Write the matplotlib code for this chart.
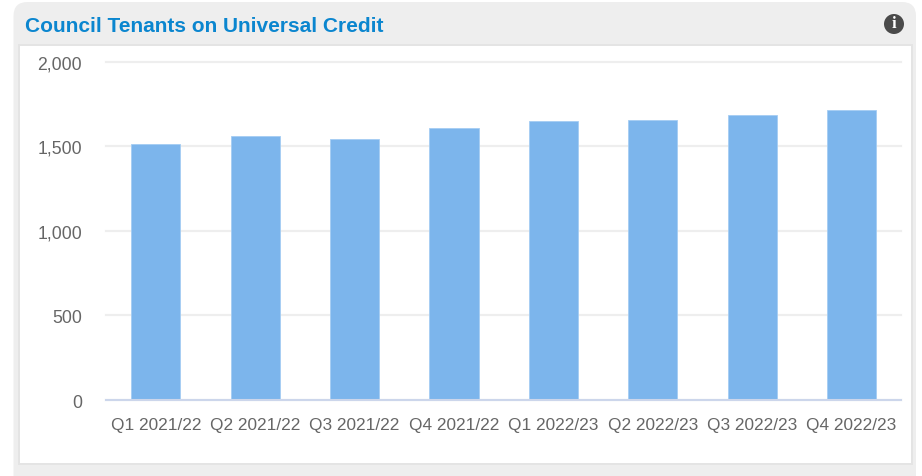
import matplotlib
matplotlib.use("Agg")
import matplotlib.pyplot as plt
from matplotlib.patches import FancyBboxPatch, Rectangle, Circle
from matplotlib.transforms import ScaledTranslation

categories = ["Q1 2021/22", "Q2 2021/22", "Q3 2021/22", "Q4 2021/22",
              "Q1 2022/23", "Q2 2022/23", "Q3 2022/23", "Q4 2022/23"]
values = [1515, 1562, 1540, 1610, 1648, 1657, 1686, 1716]
y_ticks = [0, 500, 1000, 1500, 2000]
y_labels = ["0", "500", "1,000", "1,500", "2,000"]
title = "Council Tenants on Universal Credit"

W, H = 922, 476
plt.rcParams["font.family"] = ["Liberation Sans", "DejaVu Sans"]
fig = plt.figure(figsize=(W / 100, H / 100), dpi=100, facecolor="white")

bg = fig.add_axes([0, 0, 1, 1], zorder=0)
bg.set_xlim(0, W)
bg.set_ylim(H, 0)
bg.axis("off")
bg.add_patch(FancyBboxPatch((13.5, 2), 902.5, 490, boxstyle="round,pad=0,rounding_size=14",
                            fc="#eeeeee", ec="none", clip_on=True))
bg.add_patch(Rectangle((19, 45), 893, 419, fc="white", ec="#e4e4e4", lw=1.4))
bg.add_patch(Circle((894, 24), 10, fc="#4a4a4a", ec="none"))
bg.text(894, 24.5, "i", color="white", fontsize=12, fontweight="bold",
        family="Liberation Serif", ha="center", va="center")
bg.text(25, 26, title, color="#0b86cf", fontsize=15.05, fontweight="bold",
        ha="left", va="center")

x0, x1, y_top, y_bot = 106.2, 901.2, 61.5, 400
ax = fig.add_axes([x0 / W, 1 - y_bot / H, (x1 - x0) / W, (y_bot - y_top) / H], zorder=1)
ax.patch.set_alpha(0)
ax.bar(range(len(values)), values, width=0.495, color="#7cb5ec", edgecolor="#a4cdf3",
       linewidth=0.6, zorder=3)
ax.set_xlim(-0.5, len(values) - 0.5)
ax.set_ylim(0, 2000)
ax.set_yticks(y_ticks, y_labels)
ax.set_xticks(range(len(values)), categories)
ax.grid(axis="y", color="#eeeeee", lw=1.6, zorder=0, clip_on=False)
ax.set_axisbelow(True)
for s in ["top", "right", "left"]:
    ax.spines[s].set_visible(False)
ax.spines["bottom"].set_color("#ccd6eb")
ax.spines["bottom"].set_linewidth(1.5)
ax.spines["bottom"].set_zorder(4)
ax.tick_params(axis="both", length=0, labelcolor="#666666")
ax.tick_params(axis="x", labelsize=12.4, pad=13)
ax.tick_params(axis="y", labelsize=12.7, pad=17.3)
offset = ScaledTranslation(0, -3 / 100, fig.dpi_scale_trans)
for lab in ax.get_yticklabels():
    lab.set_va("center")
    lab.set_transform(lab.get_transform() + offset)

fig.savefig("out.png", dpi=100)
